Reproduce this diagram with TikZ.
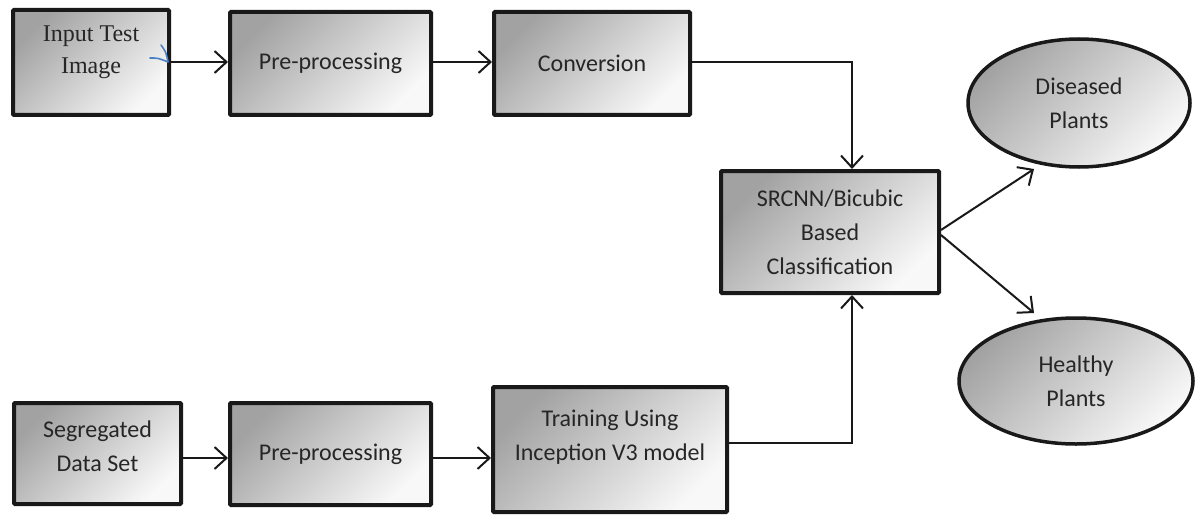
\documentclass[tikz,border=0pt]{standalone}
\usepackage{fontspec}
\setmainfont{Carlito}
\newfontfamily\timesfont{Liberation Serif}
\usetikzlibrary{arrows.meta,shapes.geometric}
\definecolor{txt}{HTML}{262626}
\definecolor{shdark}{HTML}{A2A2A2}
\definecolor{shlight}{HTML}{F8F8F8}
\definecolor{tick}{HTML}{4A80C8}
\tikzset{
  boxnode/.style={draw=black!90, line width=4pt, rounded corners=1pt,
    top color=shdark, bottom color=shlight, shading angle=45,
    inner sep=0pt, align=center, text=txt,
    font=\fontsize{24}{34}\selectfont},
  ovalnode/.style={ellipse, draw=black!90, line width=3.5pt,
    top color=shdark, bottom color=shlight, shading angle=45,
    inner sep=0pt, align=center, text=txt,
    font=\fontsize{24}{34}\selectfont},
  lbl/.style={align=center, text=txt, inner sep=0pt,
    font=\fontsize{24}{34}\selectfont},
  arr/.style={draw=black!90, line width=2pt,
    -{Straight Barb[length=12pt,width=22pt,line width=2pt]}},
  plain/.style={draw=black!90, line width=2pt}
}
\begin{document}
\begin{tikzpicture}[x=1pt,y=-1pt]
\useasboundingbox (0,0) rectangle (1196,516);
% top row
\node[boxnode, minimum width=156pt, minimum height=105pt] (inp) at (91,62.5) {};
\node[lbl, font=\timesfont\fontsize{24}{32}\selectfont] (inptxt) at (91,52) {Input Test\\Image};
\node[boxnode, minimum width=201pt, minimum height=103pt] (pre1) at (330.5,63.5) {Pre-processing};
\node[boxnode, minimum width=196pt, minimum height=103pt] (conv) at (592,63.5) {Conversion};
% center
\node[boxnode, minimum width=218pt, minimum height=122pt] (cls) at (830,232) {SRCNN/Bicubic\\Based\\Classification};
% ellipses
\node[ovalnode, minimum width=222pt, minimum height=128pt] (dis) at (1079,103) {Diseased\\Plants};
\node[ovalnode, minimum width=234pt, minimum height=126pt] (hea) at (1076,381) {Healthy\\Plants};
% bottom row
\node[boxnode, minimum width=167pt, minimum height=101pt] (seg) at (97.5,453.5) {};
\node[lbl] (segtxt) at (97.5,446) {Segregated\\Data Set};
\node[boxnode, minimum width=201pt, minimum height=102pt] (pre2) at (330.5,454) {Pre-processing};
\node[boxnode, minimum width=234pt, minimum height=125pt] (train) at (610,449.5) {};
\node[lbl] (traintxt) at (610,437) {Training Using\\Inception V3 model};
% junctions
\coordinate (j1) at (852,62);
\coordinate (j2) at (852,443);
% connectors
\draw[arr] (inp.east |- 0,62) -- (pre1.west |- 0,62);
\draw[arr] (pre1.east |- 0,62) -- (conv.west |- 0,62);
\draw[arr] (conv.east |- j1) -- (j1) -- (j1 |- cls.north);
\draw[arr] (seg.east |- 0,458) -- (pre2.west |- 0,458);
\draw[arr] (pre2.east |- 0,458) -- (train.west |- 0,458);
\draw[arr] (train.east |- j2) -- (j2) -- (j2 |- cls.south);
\coordinate (o1) at (1034,169);
\coordinate (o2) at (1034,313);
\draw[arr] (cls.east |- 0,230) -- (o1);
\draw[arr] (cls.east |- 0,235) -- (o2);
% stray blue tick
\draw[tick, line width=1.6pt, line cap=round, line join=round] (150,58) .. controls (158,58) .. (168,62) .. controls (166,52) .. (161,45);
\end{tikzpicture}
\end{document}
